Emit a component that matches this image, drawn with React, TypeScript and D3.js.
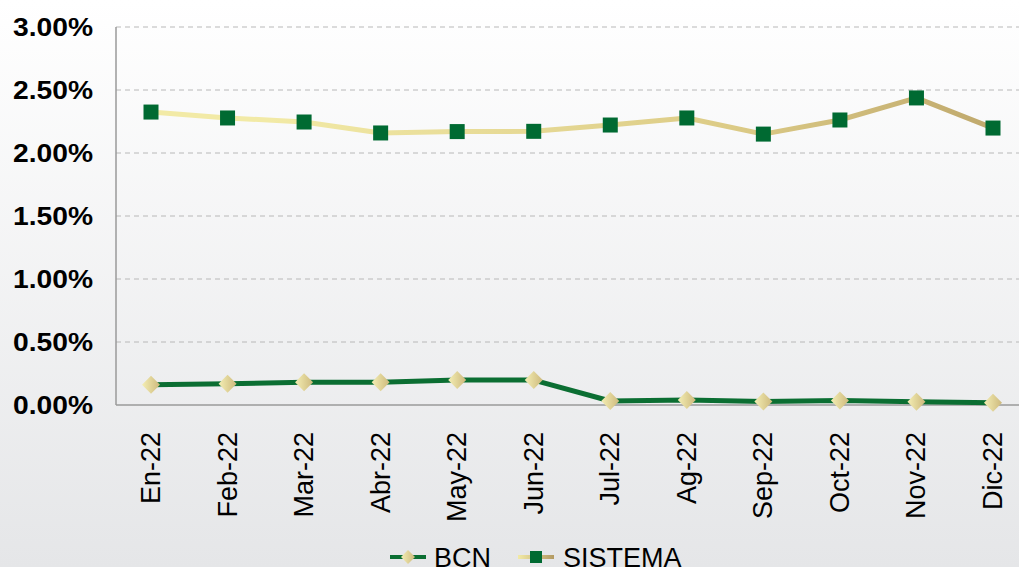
import { useMemo } from "react";
import * as d3 from "d3";

const WIDTH = 1019;
const HEIGHT = 567;
const MARGIN = { top: 27, right: 0, bottom: 162, left: 116 };

const months = ["En-22", "Feb-22", "Mar-22", "Abr-22", "May-22", "Jun-22", "Jul-22", "Ag-22", "Sep-22", "Oct-22", "Nov-22", "Dic-22"];
const bcn = [0.16, 0.168, 0.18, 0.18, 0.198, 0.198, 0.032, 0.04, 0.027, 0.036, 0.026, 0.018];
const sistema = [2.325, 2.278, 2.246, 2.159, 2.17, 2.172, 2.222, 2.278, 2.15, 2.262, 2.437, 2.198];
const yTicks = [0, 0.5, 1, 1.5, 2, 2.5, 3];

const FONT = "'Liberation Sans', Arial, sans-serif";

export default function App() {
  const boundsWidth = WIDTH - MARGIN.left - MARGIN.right;
  const boundsHeight = HEIGHT - MARGIN.top - MARGIN.bottom;

  const xScale = useMemo(
    () => d3.scalePoint<string>().domain(months).range([35, 877]),
    []
  );
  const yScale = useMemo(
    () => d3.scaleLinear().domain([0, 3]).range([boundsHeight, 0]),
    [boundsHeight]
  );

  const line = d3
    .line<number>()
    .x((_, i) => xScale(months[i])!)
    .y((d) => yScale(d));

  const sistemaPath = line(sistema) || "";
  const bcnPath = line(bcn) || "";

  return (
    <svg
      width={WIDTH}
      height={HEIGHT}
      style={{ position: "absolute", left: 0, top: 0 }}
      fontFamily={FONT}
    >
      <defs>
        <linearGradient id="bg" x1="0" x2="0" y1="0" y2="1">
          <stop offset="0%" stopColor="#ffffff" />
          <stop offset="100%" stopColor="#e5e6e8" />
        </linearGradient>
        <linearGradient id="sisGrad" gradientUnits="userSpaceOnUse" x1={MARGIN.left + 35} x2={MARGIN.left + 877} y1="0" y2="0">
          <stop offset="0%" stopColor="#f2eaa6" />
          <stop offset="55%" stopColor="#dccb86" />
          <stop offset="100%" stopColor="#b39a62" />
        </linearGradient>
        <linearGradient id="diamond" x1="0" x2="1" y1="0" y2="0">
          <stop offset="0%" stopColor="#f4eeb4" />
          <stop offset="100%" stopColor="#cdb97c" />
        </linearGradient>
        <linearGradient id="legSis" x1="0" x2="1" y1="0" y2="0">
          <stop offset="0%" stopColor="#f2eaa6" />
          <stop offset="100%" stopColor="#b39a62" />
        </linearGradient>
      </defs>
      <rect width={WIDTH} height={HEIGHT} fill="url(#bg)" />

      <g transform={`translate(${MARGIN.left},${MARGIN.top})`}>
        {/* grid */}
        {yTicks.filter((t) => t > 0).map((t) => (
          <line
            key={t}
            x1={0}
            x2={boundsWidth}
            y1={yScale(t)}
            y2={yScale(t)}
            stroke="#b8b8b8"
            strokeWidth={1}
            strokeDasharray="5,4"
          />
        ))}
        <line x1={0} x2={0} y1={0} y2={boundsHeight} stroke="#9a9a9a" strokeWidth={1.5} />
        <line x1={0} x2={boundsWidth} y1={boundsHeight} y2={boundsHeight} stroke="#9a9a9a" strokeWidth={1.5} />

        {/* y labels, slightly wider glyphs like the original */}
        {yTicks.map((t) => (
          <text
            key={t}
            transform={`translate(-23,${yScale(t)}) scale(1.13,1)`}
            dy="0.36em"
            textAnchor="end"
            fontSize={25}
            fontWeight="bold"
            fill="#000"
          >
            {t.toFixed(2)}%
          </text>
        ))}

        {/* x labels */}
        {months.map((m) => (
          <text
            key={m}
            transform={`translate(${xScale(m)! + 9},${boundsHeight + 27}) rotate(-90)`}
            textAnchor="end"
            fontSize={27}
            fill="#000"
          >
            {m}
          </text>
        ))}

        {/* SISTEMA */}
        <path d={sistemaPath} fill="none" stroke="url(#sisGrad)" strokeWidth={5} strokeLinejoin="round" />
        {sistema.map((v, i) => (
          <rect
            key={i}
            x={xScale(months[i])! - 7.5}
            y={yScale(v) - 7.5}
            width={15}
            height={15}
            fill="#006a32"
          />
        ))}

        {/* BCN */}
        <path d={bcnPath} fill="none" stroke="#0b6e32" strokeWidth={5} strokeLinejoin="round" />
        {bcn.map((v, i) => {
          const cx = xScale(months[i])!;
          const cy = yScale(v);
          return (
            <path
              key={i}
              d={`M${cx - 9},${cy} L${cx},${cy - 9} L${cx + 9},${cy} L${cx},${cy + 9} Z`}
              fill="url(#diamond)"
            />
          );
        })}
      </g>

      {/* legend */}
      <g transform="translate(390,557)">
        <line x1={0} x2={36} y1={0} y2={0} stroke="#0b6e32" strokeWidth={4} />
        <path d="M18,-7 L25,0 L18,7 L11,0 Z" fill="url(#diamond)" />
        <text x={44} y={0} dy="0.36em" fontSize={27} fill="#000">BCN</text>
      </g>
      <g transform="translate(518,557)">
        <rect x={0} y={-2} width={36} height={4} fill="url(#legSis)" />
        <rect x={12} y={-6} width={12} height={12} fill="#006a32" />
        <text x={45} y={0} dy="0.36em" fontSize={27} fill="#000">SISTEMA</text>
      </g>
    </svg>
  );
}
